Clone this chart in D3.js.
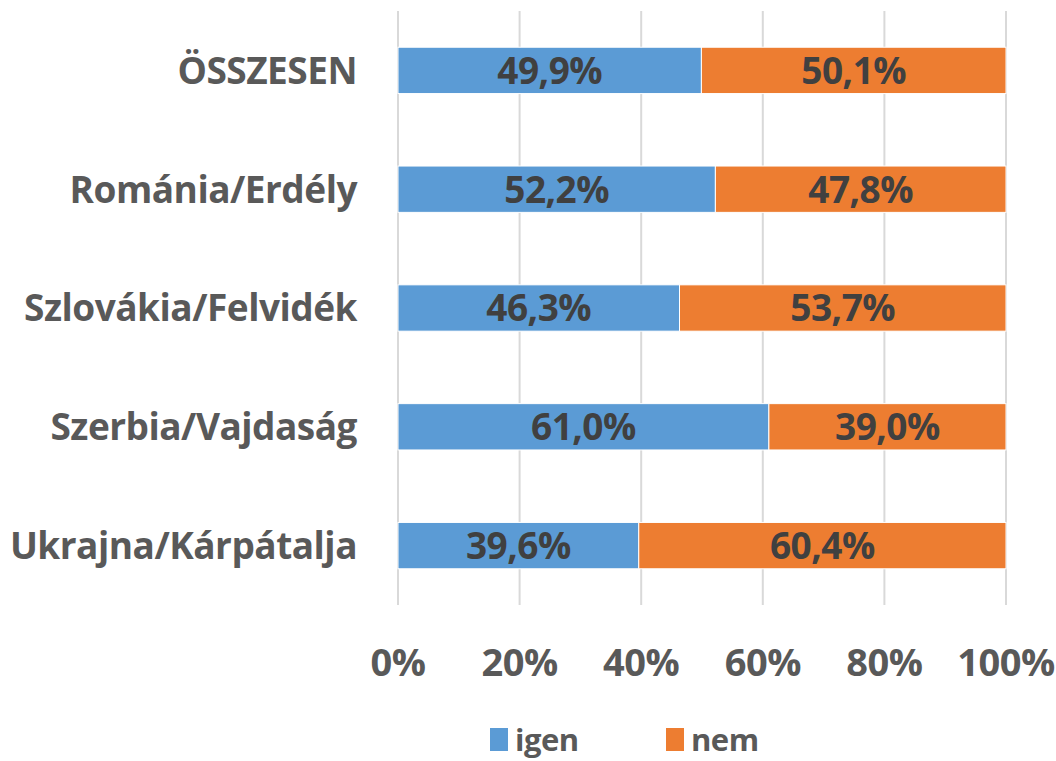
<!DOCTYPE html>
<html><head><meta charset="utf-8">
<script src="https://cdn.jsdelivr.net/npm/d3@7"></script>
<style>body{margin:0;background:#fff}svg{display:block}text{font-family:"Open Sans",Lato,sans-serif;font-weight:700}</style>
</head><body>
<script>
const categories = ["ÖSSZESEN","Románia/Erdély","Szlovákia/Felvidék","Szerbia/Vajdaság","Ukrajna/Kárpátalja"];
const igen = [49.9, 52.2, 46.3, 61.0, 39.6];
const nem = [50.1, 47.8, 53.7, 39.0, 60.4];
const seriesNames = ["igen","nem"];
const ticks = [0,20,40,60,80,100];
const colors = ["#5b9bd5","#ed7d31"];

const W=1056,H=761;
const svg=d3.select("body").append("svg").attr("width",W).attr("height",H);
const x=d3.scaleLinear().domain([0,100]).range([398,1006]);
const y=d3.scaleBand().domain(categories).range([11,605]).paddingInner(0.61).paddingOuter(0.305);

svg.append("g").selectAll("line").data(ticks).join("line")
  .attr("x1",d=>x(d)).attr("x2",d=>x(d)).attr("y1",11).attr("y2",605)
  .attr("stroke","#d9d9d9").attr("stroke-width",2);

const stackData = categories.map((c,i)=>({c, igen:igen[i], nem:nem[i]}));
const stacked = d3.stack().keys(seriesNames)(stackData);
const fmt = v => v.toFixed(1).replace(".",",")+"%";

stacked.forEach((s,si)=>{
  const g=svg.append("g");
  g.selectAll("rect").data(s).join("rect")
    .attr("x",d=>x(d[0])).attr("width",d=>x(d[1])-x(d[0]))
    .attr("y",d=>y(d.data.c)).attr("height",y.bandwidth())
    .attr("fill",colors[si]).attr("stroke","#fff").attr("stroke-width",1);
  g.selectAll("text").data(s).join("text")
    .attr("x",d=>(x(d[0])+x(d[1]))/2).attr("y",d=>y(d.data.c)+y.bandwidth()/2)
    .attr("dy","0.36em").attr("text-anchor","middle")
    .attr("font-size",37).attr("fill","#404040").attr("letter-spacing",-0.5)
    .text(d=>fmt(d[1]-d[0]));
});

svg.append("g").selectAll("text").data(categories).join("text")
  .attr("x",357).attr("y",d=>y(d)+y.bandwidth()/2).attr("dy","0.36em")
  .attr("text-anchor","end").attr("font-size",37).attr("fill","#595959").attr("letter-spacing",-0.5).text(d=>d);

svg.append("g").selectAll("text").data(ticks).join("text")
  .attr("x",d=>x(d)).attr("y",662).attr("dy","0.36em").attr("text-anchor","middle")
  .attr("font-size",38).attr("fill","#595959").attr("letter-spacing",-0.5).text(d=>d+"%");

const lx=[490,666];
seriesNames.forEach((n,i)=>{
  svg.append("rect").attr("x",lx[i]).attr("y",728).attr("width",18).attr("height",23).attr("fill",colors[i]);
  svg.append("text").attr("x",lx[i]+25).attr("y",740).attr("dy","0.36em")
    .attr("font-size",31).attr("fill","#595959").attr("letter-spacing",-0.5).text(n);
});
</script>
</body></html>
